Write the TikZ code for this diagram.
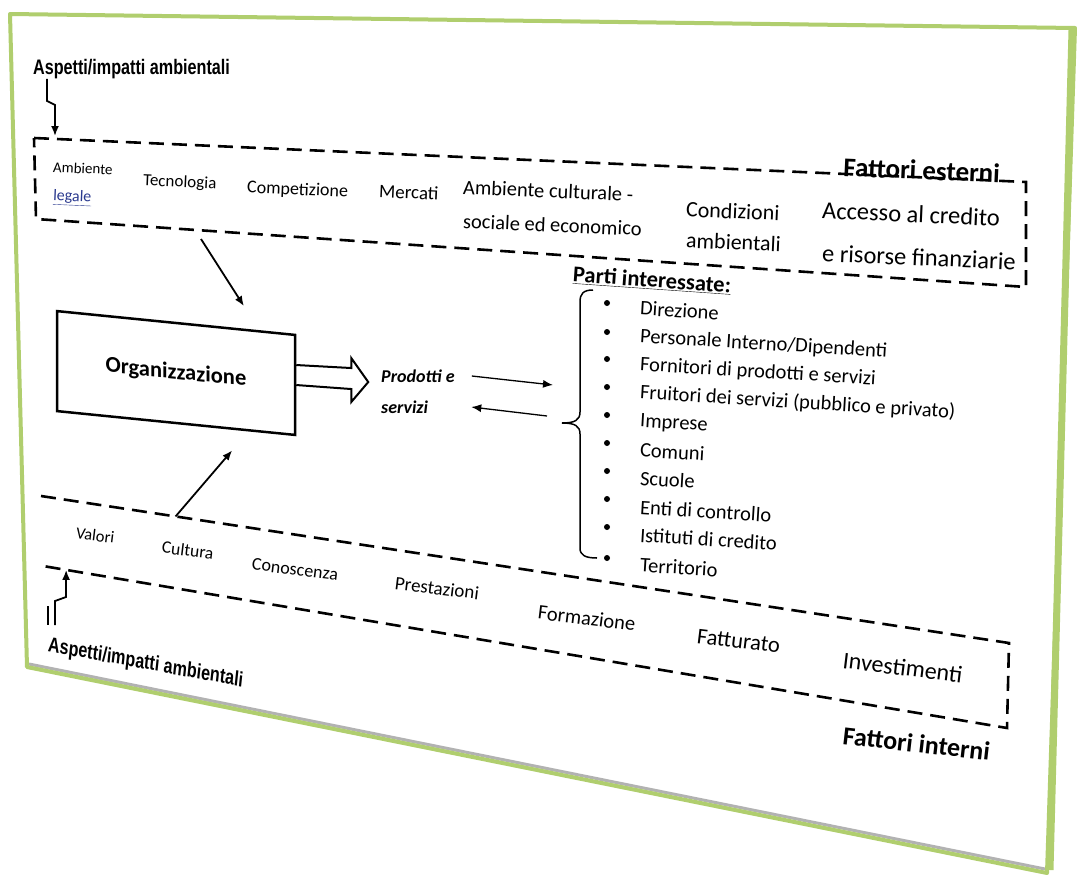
\documentclass[tikz,border=0pt]{standalone}
\usepackage{fontspec}
\setmainfont{Carlito}
\newfontfamily\narrowfont{Liberation Sans}
\usetikzlibrary{arrows.meta,calc}
\definecolor{pagegreen}{RGB}{176,206,110}
\definecolor{legalblue}{RGB}{43,58,143}
\begin{document}
\begin{tikzpicture}[x=1pt, y=-1pt,
  every node/.style={inner sep=0pt},
  lbl/.style={font=\fontsize{#1}{#1}\selectfont, anchor=west},
  ext/.style={lbl=#1, rotate=-2.5},
  int/.style={lbl=#1, rotate=-7},
  item/.style={lbl=20.5, rotate=-3.5},
  fattori/.style={font=\bfseries\fontsize{#1}{#1}\selectfont},
  aspetti/.style={font=\narrowfont\bfseries\fontsize{21}{21}\selectfont, anchor=west, xscale=.77},
  dashbox/.style={line width=2.6pt, dash pattern=on 15pt off 8pt},
  conn/.style={line width=1.8pt, -{Latex[length=10pt,width=8pt]}},
  orgbox/.style={draw, line width=2.5pt, minimum width=238pt, minimum height=100pt, font=\bfseries\fontsize{22.5}{22.5}\selectfont},
  hollow/.style={line width=2pt, line join=miter},
  brace/.style={line width=1.5pt}]
\useasboundingbox (0,0) rectangle (1077,876);

% sheet
\fill[white] (10,14) -- (1075,28) -- (1047,873) -- (27,667) -- cycle;
\draw[black!30, line width=3pt] (29,664) -- (1045,869);
\draw[pagegreen, line width=4pt, line join=round] (10,14) -- (1075,28) -- (1047,873) -- (27,667) -- cycle;
\draw[pagegreen, line width=7pt] (1072,30) -- (1050,870);

% fattori esterni
\coordinate (e1) at (34,138);
\coordinate (e2) at (1026,182);
\coordinate (e3) at (1026,287);
\coordinate (e4) at (36,219);
\draw[dashbox] (e1) -- (e2) -- (e3) -- (e4) -- cycle;
\node[fattori=27, anchor=base west, rotate=-2.5] (fest) at (843,176) {Fattori esterni};

\node[ext=15] (amb1) at (53,167) {Ambiente};
\node[ext=16, text=legalblue] (amb2) at (53,197) {\underline{legale}};
\node[ext=17] (tecno) at (143,181) {Tecnologia};
\node[ext=18] (compet) at (247,188) {Competizione};
\node[ext=19] (merc) at (379,191) {Mercati};
\node[ext=20.5] (cult1) at (463,187) {Ambiente culturale -};
\node[ext=20.5] (cult2) at (463,221) {sociale ed economico};
\node[ext=22] (cond1) at (686,209) {Condizioni};
\node[ext=22] (cond2) at (686,240) {ambientali};
\node[ext=24.5] (acc1) at (822,210) {Accesso al credito};
\node[ext=24.5] (acc2) at (822,253) {e risorse finanziarie};

\node[aspetti] (asptop) at (33,69) {Aspetti/impatti ambientali};
\coordinate (extin) at (55,136);
\draw[conn] ([xshift=14pt]asptop.south west) -- ++(0,22) -- ++(8,4) -- (extin);

% organizzazione
\node[orgbox, yslant=-0.1] (org) at (176,373) {Organizzazione};
\coordinate (eout) at (201,239);
\draw[conn, shorten >=15pt] (eout) -- ([xshift=76pt,yshift=3pt]org.north);
\coordinate (iout) at ($(41,496)!0.139!(1009,643)$);
\draw[conn, shorten >=12pt] (iout) -- ([xshift=64pt,yshift=-17pt]org.south);

% prodotti e servizi
\coordinate (hstart) at ([yshift=10pt]org.east);
\draw[hollow] ($(hstart)+(0,-10)$) -- ++(55,3) -- ++(0,-10) -- ++(17,24) -- ++(-17,20) -- ++(0,-13) -- ++(-55,-4);
\node[lbl=18, font=\bfseries\itshape\fontsize{18}{18}\selectfont] (prod1) at (381,376) {Prodotti e};
\node[lbl=18, font=\bfseries\itshape\fontsize{18}{18}\selectfont] (prod2) at (381,407) {servizi};

% parti interessate
\coordinate (brc) at (562,423);
\draw[brace] (593,290) .. controls (583,290) and (580,294) .. (580,302) -- (580,412)
  .. controls (580,420) and (575,423) .. (brc) .. controls (575,423) and (580,426) .. (580,434)
  -- (580,548) .. controls (580,555) and (585,558) .. (597,558);
\draw[conn, line width=1.3pt] ([xshift=17pt]prod1.east) -- ([xshift=-9pt,yshift=38pt]brc);
\draw[conn, line width=1.3pt] ([xshift=-15pt,yshift=7pt]brc) -- ([xshift=43pt]prod2.east);

\node[fattori=22.5, anchor=west, rotate=-4] (parti) at (573,275) {\underline{Parti interessate:}};
\fill (607,303) circle (3pt);
\node[item] (direz) at (640,308) {Direzione};
\fill (607,332) circle (3pt);
\node[item] (perso) at (640,337) {Personale Interno/Dipendenti};
\fill (607,359) circle (3pt);
\node[item] (forni) at (640,365) {Fornitori di prodotti e servizi};
\fill (607,387) circle (3pt);
\node[item] (fruit) at (640,393) {Fruitori dei servizi (pubblico e privato)};
\fill (607,415) circle (3pt);
\node[item] (impre) at (640,422) {Imprese};
\fill (607,443) circle (3pt);
\node[item] (comun) at (640,450) {Comuni};
\fill (607,471) circle (3pt);
\node[item] (scuol) at (640,478) {Scuole};
\fill (607,499) circle (3pt);
\node[item] (enti) at (640,507) {Enti di controllo};
\fill (607,527) circle (3pt);
\node[item] (istit) at (640,535) {Istituti di credito};
\fill (607,558) circle (3pt);
\node[item] (terri) at (640,565) {Territorio};

% fattori interni
\coordinate (i1) at (41,496);
\coordinate (i2) at (1009,643);
\coordinate (i3) at (1007,728);
\coordinate (i4) at (43,566);
\draw[dashbox] (i1) -- (i2) -- (i3) -- (i4);
\node[fattori=26, anchor=west, rotate=-6.5] (fint) at (843,735) {Fattori interni};

\node[int=16.5] (valori) at (76,533) {Valori};
\node[int=17.5] (cultura) at (162,547) {Cultura};
\node[int=18] (conosc) at (252,564) {Conoscenza};
\node[int=19] (prest) at (395,583) {Prestazioni};
\node[int=20.5] (form) at (538,612) {Formazione};
\node[int=22.5] (fatt) at (697,636) {Fatturato};
\node[int=24] (invest) at (843,660) {Investimenti};

\node[aspetti, rotate=-8] (aspbot) at (48,646) {Aspetti/impatti ambientali};
\coordinate (abin) at (55,625);
\coordinate (iin) at ($(i4)!0.024!(i3)$);
\draw[line width=1.8pt] (48,606) -- (48,625);
\draw[conn] (abin) -- (55,601) -- (66,597) -- (iin);
\end{tikzpicture}
\end{document}
